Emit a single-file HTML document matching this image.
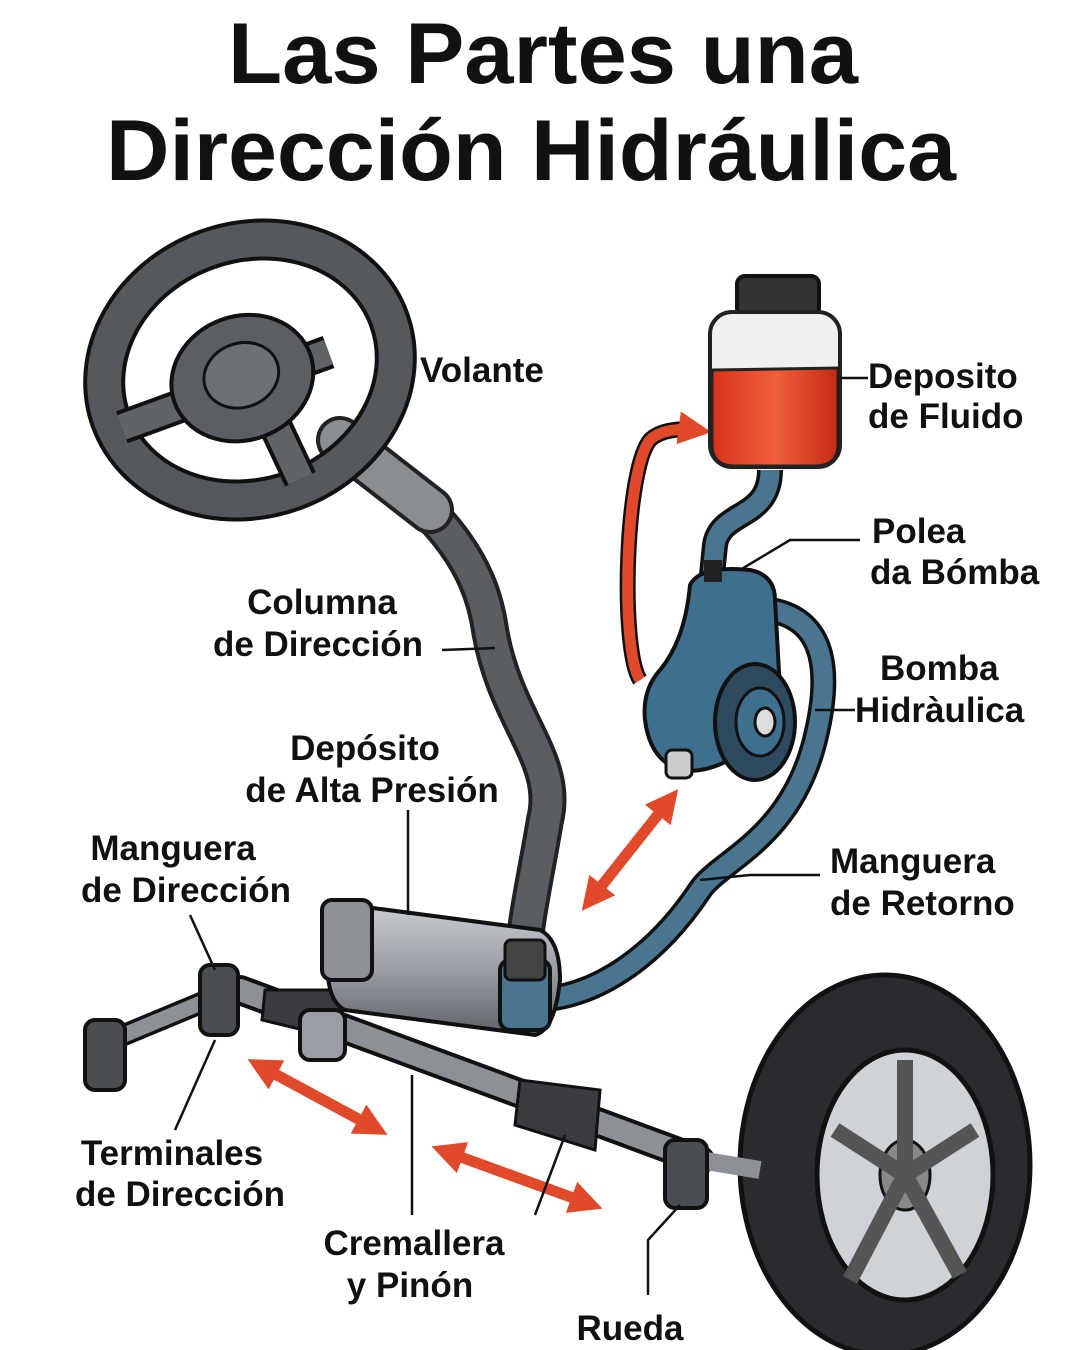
<!DOCTYPE html>
<html><head><meta charset="utf-8"><style>
html,body{margin:0;padding:0;background:#fff}
svg{display:block}
text{font-family:"Liberation Sans",sans-serif;font-weight:bold;fill:#111}
</style></head><body>
<svg width="1080" height="1350" viewBox="0 0 1080 1350" xmlns="http://www.w3.org/2000/svg">
<defs>
<marker id="ah" viewBox="0 0 10 10" refX="5" refY="5" markerWidth="3" markerHeight="3" orient="auto-start-reverse"><path d="M0,0L10,5L0,10z" fill="#e04a2a"/></marker>
<linearGradient id="fl" x1="0" y1="0" x2="1" y2="0"><stop offset="0" stop-color="#d8321a"/><stop offset=".5" stop-color="#f0603a"/><stop offset="1" stop-color="#c52a15"/></linearGradient>
<linearGradient id="cy" x1="0" y1="0" x2="0" y2="1"><stop offset="0" stop-color="#c9ccd0"/><stop offset=".5" stop-color="#9a9ea4"/><stop offset="1" stop-color="#5f6368"/></linearGradient>
</defs>
<text x="543" y="83" font-size="86" text-anchor="middle" textLength="630" lengthAdjust="spacingAndGlyphs">Las Partes una</text>
<text x="531" y="180" font-size="86" text-anchor="middle" textLength="850" lengthAdjust="spacingAndGlyphs">Dirección Hidráulica</text>

<!-- column -->
<path d="M385,470 C440,520 480,560 490,630 C505,720 560,760 545,820 C535,880 525,920 522,970" fill="none" stroke="#222" stroke-width="38" stroke-linecap="round"/>
<path d="M385,470 C440,520 480,560 490,630 C505,720 560,760 545,820 C535,880 525,920 522,970" fill="none" stroke="#5a5d62" stroke-width="30" stroke-linecap="round"/>
<path d="M340,440 L430,510" stroke="#222" stroke-width="48" stroke-linecap="round"/>
<path d="M340,440 L430,510" stroke="#8a8d92" stroke-width="40" stroke-linecap="round"/>
<!-- wheel -->
<g transform="rotate(-20 250 370)">
<ellipse cx="250" cy="370" rx="148" ry="128" fill="none" stroke="#111" stroke-width="42"/>
<ellipse cx="250" cy="370" rx="148" ry="128" fill="none" stroke="#55585c" stroke-width="34"/>
<path d="M110,380 L330,380 M250,380 L260,490" stroke="#111" stroke-width="34"/>
<path d="M110,380 L330,380 M250,380 L260,490" stroke="#606368" stroke-width="26"/>
<ellipse cx="240" cy="375" rx="72" ry="62" fill="#5b5e63" stroke="#111" stroke-width="4"/>
<ellipse cx="240" cy="372" rx="38" ry="32" fill="#6d7075" stroke="#111" stroke-width="3"/>
</g>

<!-- red feed arrow -->
<path d="M640,680 C620,650 625,470 650,440 C660,430 680,428 695,430" fill="none" stroke="#111" stroke-width="16"/>
<path d="M640,680 C620,650 625,470 650,440 C660,430 680,428 695,430" fill="none" stroke="#e04a2a" stroke-width="11" marker-end="url(#ah)"/>

<!-- return hose -->
<path d="M770,610 C830,620 830,680 815,740 C790,840 720,860 700,890 C660,950 600,1000 530,1000" fill="none" stroke="#111" stroke-width="26"/>
<path d="M770,610 C830,620 830,680 815,740 C790,840 720,860 700,890 C660,950 600,1000 530,1000" fill="none" stroke="#4a7590" stroke-width="19"/>
<!-- feed hose -->
<path d="M770,470 C770,520 720,510 715,545 L712,575" fill="none" stroke="#111" stroke-width="26"/>
<path d="M770,470 C770,520 720,510 715,545 L712,575" fill="none" stroke="#4a7590" stroke-width="19"/>

<!-- reservoir -->
<rect x="737" y="276" width="82" height="40" rx="8" fill="#333" stroke="#111" stroke-width="4"/>
<rect x="710" y="312" width="130" height="155" rx="22" fill="#eef0f2" stroke="#222" stroke-width="4"/>
<path d="M712,370 L838,368 L838,445 Q838,466 815,466 L735,466 Q712,466 712,445z" fill="url(#fl)" stroke="#222" stroke-width="3"/>

<!-- pump -->
<path d="M690,585 Q700,565 750,570 Q775,575 775,600 L780,690 Q775,720 745,750 Q710,775 680,770 Q650,760 645,720 Q642,690 660,670 Q685,640 690,585z" fill="#3f6f8f" stroke="#111" stroke-width="4"/>
<ellipse cx="755" cy="722" rx="40" ry="58" fill="#2d4a5f" stroke="#111" stroke-width="4"/>
<ellipse cx="760" cy="722" rx="24" ry="34" fill="#3f6f8f" stroke="#111" stroke-width="3"/>
<ellipse cx="765" cy="722" rx="10" ry="14" fill="#ddd" stroke="#111" stroke-width="3"/>
<rect x="666" y="750" width="26" height="28" rx="6" fill="#ccc" stroke="#111" stroke-width="3"/>
<rect x="704" y="560" width="18" height="22" fill="#222"/>

<!-- red arrow pump -->
<line x1="592" y1="898" x2="668" y2="802" stroke="#e04a2a" stroke-width="11" marker-start="url(#ah)" marker-end="url(#ah)"/>

<!-- rack bar -->
<path d="M240,990 L700,1160" stroke="#111" stroke-width="30" stroke-linecap="round"/>
<path d="M240,990 L700,1160" stroke="#8d9196" stroke-width="22" stroke-linecap="round"/>
<!-- boots -->
<g stroke="#111" stroke-width="3" fill="#3a3c40">
<path d="M265,990 L340,990 L345,1040 L262,1020z"/>
<path d="M520,1080 L600,1090 L595,1150 L515,1125z"/>
</g>
<!-- left tie rod -->
<path d="M100,1045 L220,995" stroke="#111" stroke-width="22" stroke-linecap="round"/>
<path d="M100,1045 L220,995" stroke="#8d9196" stroke-width="15" stroke-linecap="round"/>
<rect x="85" y="1020" width="40" height="70" rx="10" fill="#4a4d52" stroke="#111" stroke-width="4"/>
<rect x="200" y="965" width="38" height="70" rx="10" fill="#4a4d52" stroke="#111" stroke-width="4"/>
<!-- rack cylinder -->
<path d="M350,905 L540,930 Q560,940 560,980 Q555,1030 535,1035 L345,1010 Q325,1000 328,955 Q332,905 350,905z" fill="url(#cy)" stroke="#111" stroke-width="4"/>
<rect x="322" y="900" width="50" height="80" rx="10" fill="#8d9196" stroke="#111" stroke-width="4"/>
<rect x="500" y="960" width="50" height="70" rx="10" fill="#4a7590" stroke="#111" stroke-width="4"/>
<rect x="300" y="1010" width="45" height="50" rx="10" fill="#9a9ea4" stroke="#111" stroke-width="4"/>
<rect x="505" y="940" width="40" height="40" rx="6" fill="#444" stroke="#111" stroke-width="3"/>

<!-- tire -->
<ellipse cx="885" cy="1165" rx="145" ry="190" fill="#2a2b2e" stroke="#111" stroke-width="5"/>
<ellipse cx="905" cy="1175" rx="88" ry="125" fill="#cfd2d6" stroke="#111" stroke-width="5"/>
<ellipse cx="905" cy="1175" rx="25" ry="35" fill="#888" stroke="#111" stroke-width="3"/>
<g stroke="#555" stroke-width="16"><line x1="905" y1="1175" x2="905" y2="1060"/><line x1="905" y1="1175" x2="975" y2="1130"/><line x1="905" y1="1175" x2="960" y2="1275"/><line x1="905" y1="1175" x2="850" y2="1280"/><line x1="905" y1="1175" x2="835" y2="1130"/></g>
<path d="M700,1160 L760,1170" stroke="#8d9196" stroke-width="18"/>
<rect x="665" y="1140" width="42" height="68" rx="10" fill="#4a4d52" stroke="#111" stroke-width="4"/>

<!-- red rack arrows -->
<line x1="262" y1="1067" x2="373" y2="1127" stroke="#e04a2a" stroke-width="11" marker-start="url(#ah)" marker-end="url(#ah)"/>
<line x1="447" y1="1152" x2="587" y2="1203" stroke="#e04a2a" stroke-width="11" marker-start="url(#ah)" marker-end="url(#ah)"/>

<!-- leader lines -->
<g stroke="#111" stroke-width="2.5" fill="none">
<line x1="840" y1="378" x2="868" y2="378"/>
<polyline points="740,570 790,540 860,540"/>
<line x1="815" y1="710" x2="855" y2="710"/>
<polyline points="700,880 750,875 820,875"/>
<line x1="442" y1="650" x2="495" y2="648"/>
<line x1="408" y1="810" x2="408" y2="915"/>
<line x1="190" y1="915" x2="215" y2="970"/>
<line x1="175" y1="1130" x2="215" y2="1040"/>
<line x1="412" y1="1215" x2="412" y2="1075"/>
<line x1="535" y1="1215" x2="565" y2="1135"/>
<polyline points="648,1295 648,1240 680,1205"/>
</g>

<g font-size="35">
<text x="420" y="382">Volante</text>
<text x="868" y="388">Deposito</text>
<text x="868" y="428">de Fluido</text>
<text x="872" y="543">Polea</text>
<text x="870" y="584">da Bómba</text>
<text x="880" y="680">Bomba</text>
<text x="855" y="722">Hidràulica</text>
<text x="830" y="873">Manguera</text>
<text x="830" y="915">de Retorno</text>
<text x="322" y="614" text-anchor="middle">Columna</text>
<text x="318" y="656" text-anchor="middle">de Dirección</text>
<text x="365" y="760" text-anchor="middle">Depósito</text>
<text x="372" y="802" text-anchor="middle">de Alta Presión</text>
<text x="173" y="860" text-anchor="middle">Manguera</text>
<text x="186" y="902" text-anchor="middle">de Dirección</text>
<text x="172" y="1165" text-anchor="middle">Terminales</text>
<text x="180" y="1206" text-anchor="middle">de Dirección</text>
<text x="414" y="1255" text-anchor="middle">Cremallera</text>
<text x="410" y="1297" text-anchor="middle">y Pinón</text>
<text x="630" y="1340" text-anchor="middle">Rueda</text>
</g>
</svg>
</body></html>
